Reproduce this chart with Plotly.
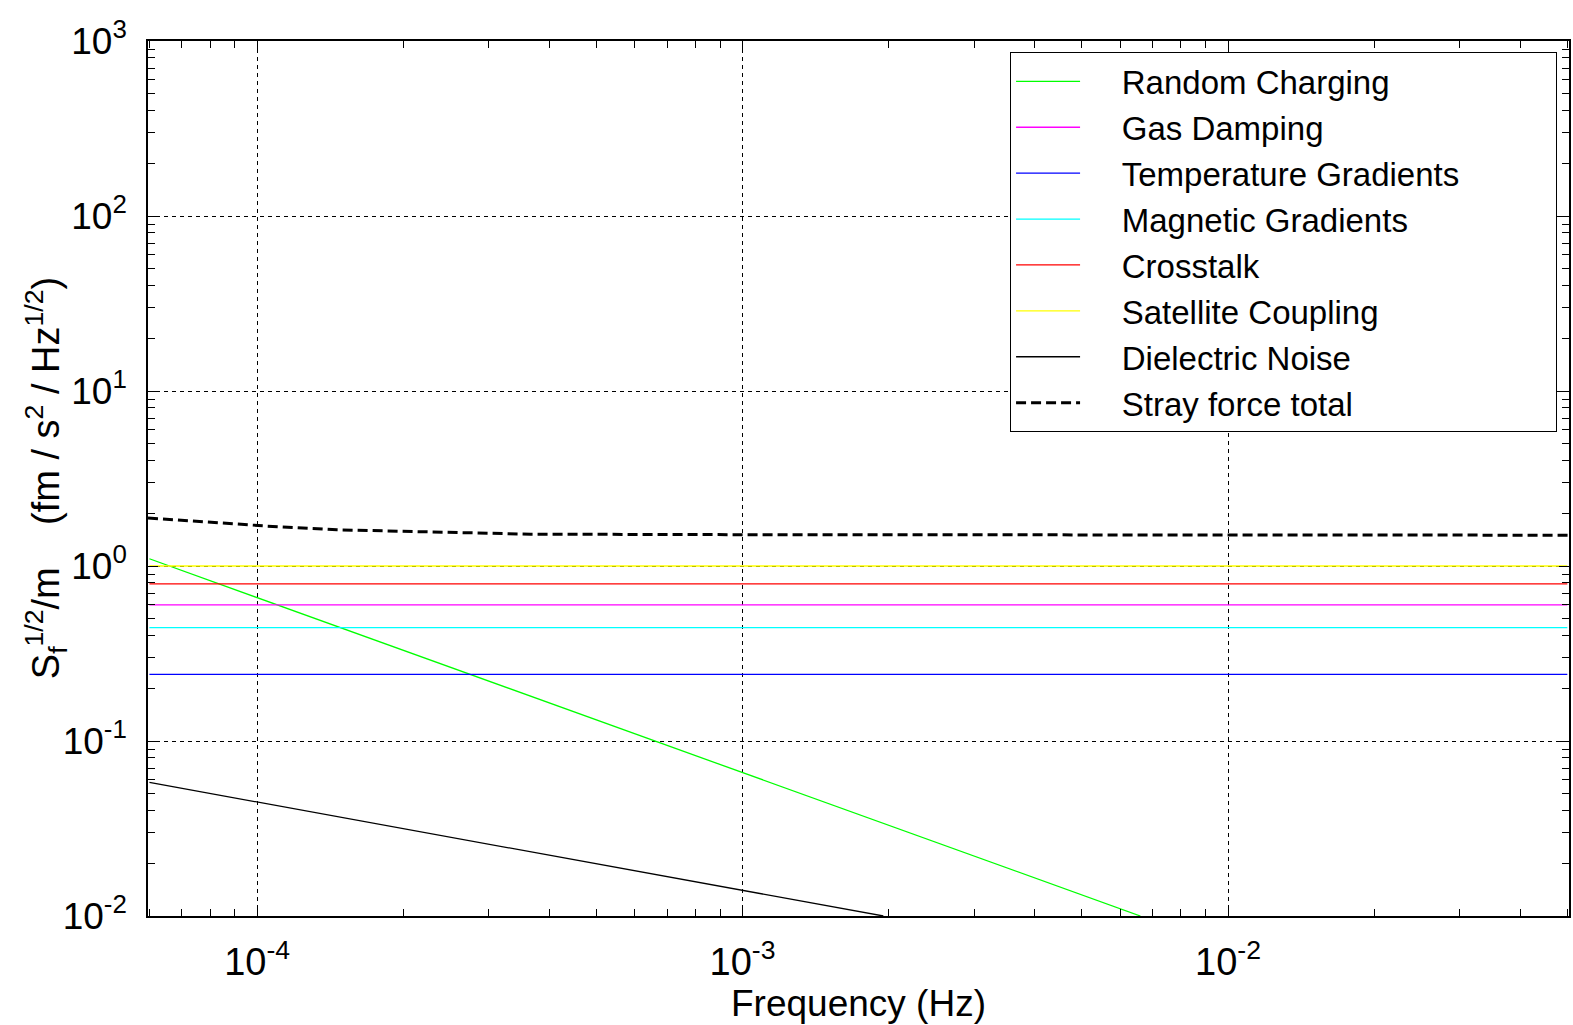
import math
import plotly.graph_objects as go

# ---- data ----
f_span = [6e-5, 0.05]                      # flat-noise lines span the whole band
gas_damping = [0.60, 0.60]
temperature_gradients = [0.24, 0.24]
magnetic_gradients = [0.445, 0.445]
crosstalk = [0.79, 0.79]
satellite_coupling = [1.0, 1.0]

f_charging = [6e-5, 6.6e-3]
random_charging = [1.10, 0.010]

f_dielectric = [6e-5, 1.95e-3]
dielectric_noise = [0.058, 0.010]

f_total = [5.96e-5, 6.9e-5, 8.2e-5, 1.05e-4, 1.46e-4, 2.27e-4, 3.66e-4, 1e-3, 1e-2, 0.0504]
stray_total = [1.88, 1.83, 1.76, 1.69, 1.61, 1.56, 1.52, 1.51, 1.50, 1.50]

x_ticks = [1e-4, 1e-3, 1e-2]
x_ticktext = ["10<sup>-4</sup>", "10<sup>-3</sup>", "10<sup>-2</sup>"]
y_ticks = [1e-2, 1e-1, 1e0, 1e1, 1e2, 1e3]
y_ticktext = ["10<sup>-2</sup>", "10<sup>-1</sup>", "10<sup>0</sup>",
              "10<sup>1</sup>", "10<sup>2</sup>", "10<sup>3</sup>"]
y_title = "S<sub>f</sub><sup>1/2</sup>/m    (fm / s<sup>2</sup> / Hz<sup>1/2</sup>)"

FONT = "Arial, 'Liberation Sans', sans-serif"
PAD_L = "\u00a0" * 4
PAD_R = "\u00a0" * 10

fig = go.Figure()

series = [
    ("Random Charging", f_charging, random_charging, "#00ff00"),
    ("Gas Damping", f_span, gas_damping, "#ff00ff"),
    ("Temperature Gradients", f_span, temperature_gradients, "#0000ff"),
    ("Magnetic Gradients", f_span, magnetic_gradients, "#00ffff"),
    ("Crosstalk", f_span, crosstalk, "#ff0000"),
    ("Satellite Coupling", f_span, satellite_coupling, "#ffff00"),
    ("Dielectric Noise", f_dielectric, dielectric_noise, "#000000"),
]
for name, fx, fy, col in series:
    fig.add_trace(go.Scatter(x=fx, y=fy, name=PAD_L + name + PAD_R, mode="lines",
                             line=dict(color=col, width=1.3)))

fig.add_trace(go.Scatter(x=f_total, y=stray_total, name=PAD_L + "Stray force total" + PAD_R,
                         mode="lines", line=dict(color="black", width=3, dash="10px,5px")))


def minor_vals(lo, hi):
    vals = []
    for e in range(lo, hi):
        for m in range(2, 10):
            vals.append(m * 10.0 ** e)
    return vals


fig.update_layout(
    width=1573, height=1025,
    margin=dict(l=148, r=2, t=41, b=109),
    paper_bgcolor="white", plot_bgcolor="white",
    font=dict(family=FONT, size=34, color="black"),
    showlegend=True,
    legend=dict(
        x=0.9916, y=0.987, xanchor="right", yanchor="top",
        bgcolor="white", bordercolor="black", borderwidth=1,
        font=dict(family=FONT, size=33, color="black"),
        itemwidth=64, tracegroupgap=0,
    ),
    xaxis=dict(
        type="log", range=[math.log10(5.96e-5), math.log10(0.0504)],
        tickmode="array", tickvals=x_ticks, ticktext=x_ticktext,
        ticks="inside", ticklen=10, tickcolor="black", tickwidth=1,
        showline=True, linecolor="black", linewidth=1.5, mirror="ticks",
        showgrid=True, gridcolor="black", gridwidth=1, griddash="4px,4px",
        minor=dict(tickvals=minor_vals(-5, -1), ticks="inside", ticklen=7,
                   tickcolor="black", showgrid=False),
        tickfont=dict(size=38), ticklabelstandoff=12,
        title=dict(text="Frequency (Hz)", font=dict(size=37), standoff=6),
        zeroline=False,
    ),
    yaxis=dict(
        type="log", range=[-2, 3],
        tickmode="array", tickvals=y_ticks, ticktext=y_ticktext,
        ticks="inside", ticklen=10, tickcolor="black", tickwidth=1,
        showline=True, linecolor="black", linewidth=1.5, mirror="ticks",
        showgrid=True, gridcolor="black", gridwidth=1, griddash="4px,4px",
        minor=dict(tickvals=minor_vals(-2, 3), ticks="inside", ticklen=7,
                   tickcolor="black", showgrid=False),
        tickfont=dict(size=37), ticklabelstandoff=12,
        zeroline=False,
    ),
    annotations=[dict(
        text=y_title, textangle=-90, showarrow=False,
        xref="paper", yref="paper", x=-0.072, y=0.5,
        xanchor="center", yanchor="middle",
        font=dict(family=FONT, size=38, color="black"),
    )],
)

fig.write_html("out.html")
